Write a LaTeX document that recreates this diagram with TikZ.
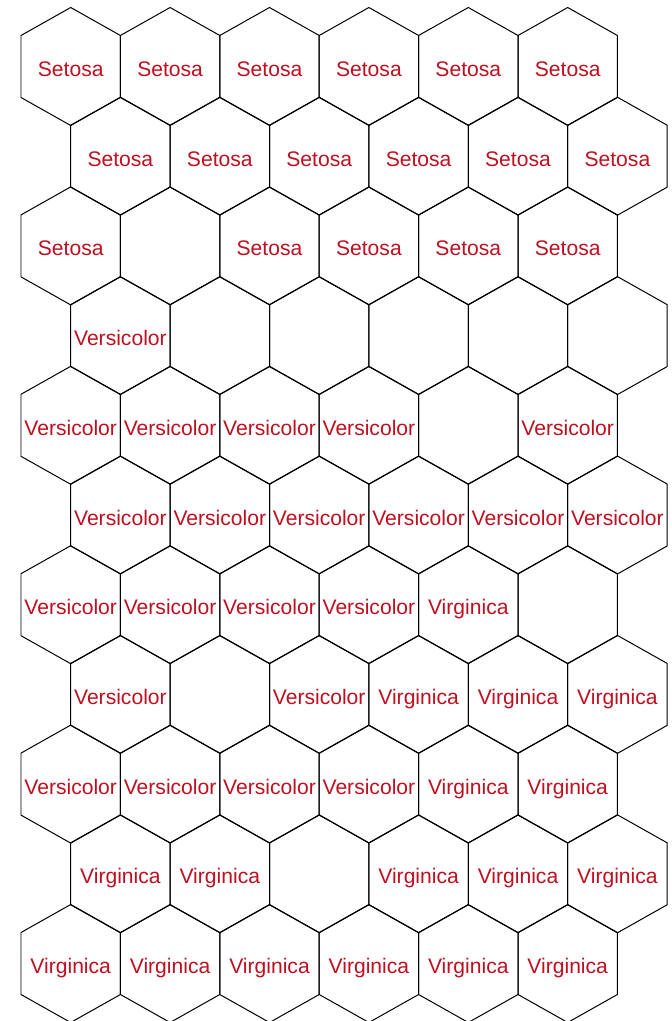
\documentclass[tikz,border=0pt]{standalone}
\usepackage{fontspec}
\setmainfont{Liberation Sans}
\definecolor{irisred}{HTML}{BE1020}
\tikzset{
  hexcell/.style = {draw=black,line width=0.85pt,line join=miter},
  irislbl/.style = {text=irisred,inner sep=0pt,anchor=base,
                    font=\fontsize{18}{20}\selectfont},
}
% hexagon around centre (#1,#2), pixel units
\newcommand{\hexat}[2]{%
  \draw[hexcell] (#1,#2-59) -- (#1+49.7,#2-31) -- (#1+49.7,#2+31)
    -- (#1,#2+59) -- (#1-49.7,#2+31) -- (#1-49.7,#2-31) -- cycle;}

\begin{document}
\begin{tikzpicture}[x=0.03cm,y=-0.03cm]
  \useasboundingbox[fill=white] (0,0) rectangle (671,1021);
  % grid of cells, odd rows shifted by half a cell
  \foreach \r in {0,...,10}{
    \foreach \c in {0,...,5}{
      \pgfmathsetmacro{\cx}{70.7+99.4*\c+49.7*mod(\r,2)}
      \pgfmathsetmacro{\cy}{66.5+89.7*\r}
      \hexat{\cx}{\cy}
      \coordinate (cell-\r-\c) at (\cx,\cy);
    }
  }
  % class labels
  \foreach \r/\row in {
    0/{Setosa,Setosa,Setosa,Setosa,Setosa,Setosa},
    1/{Setosa,Setosa,Setosa,Setosa,Setosa,Setosa},
    2/{Setosa,,Setosa,Setosa,Setosa,Setosa},
    3/{Versicolor,,,,,},
    4/{Versicolor,Versicolor,Versicolor,Versicolor,,Versicolor},
    5/{Versicolor,Versicolor,Versicolor,Versicolor,Versicolor,Versicolor},
    6/{Versicolor,Versicolor,Versicolor,Versicolor,Virginica,},
    7/{Versicolor,,Versicolor,Virginica,Virginica,Virginica},
    8/{Versicolor,Versicolor,Versicolor,Versicolor,Virginica,Virginica},
    9/{Virginica,Virginica,,Virginica,Virginica,Virginica},
    10/{Virginica,Virginica,Virginica,Virginica,Virginica,Virginica}}{
    \foreach \lbl [count=\c from 0] in \row {
      \ifx\lbl\empty\else
        \node[irislbl] (lbl-\r-\c) at ([yshift=-10*0.03cm]cell-\r-\c) {\lbl};
      \fi
    }
  }
\end{tikzpicture}
\end{document}
